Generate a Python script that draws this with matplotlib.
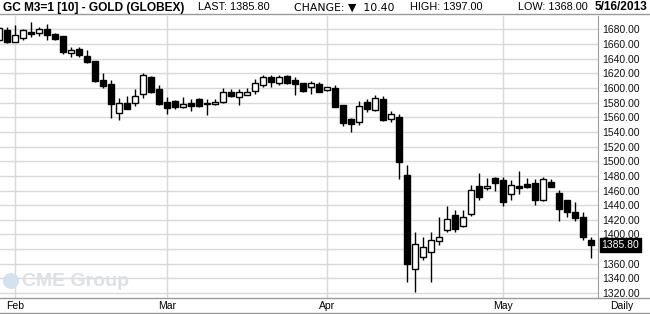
import matplotlib
matplotlib.use('Agg')
import matplotlib.pyplot as plt
from matplotlib.lines import Line2D
from matplotlib.patches import Ellipse

# daily OHLC, GC June 2013 (Globex), Jan 30 .. May 16 2013
opens = [1665.0, 1678.6, 1663.5, 1668.5, 1676.3, 1675.0, 1681.0, 1674.0, 1670.4, 1648.0,
         1653.4, 1644.0, 1637.3, 1611.0, 1605.0, 1565.3, 1579.0, 1579.0, 1591.5, 1615.0,
         1598.3, 1581.5, 1581.8, 1573.6, 1579.1, 1585.0, 1579.5, 1578.2, 1580.5, 1594.1,
         1588.2, 1590.5, 1595.5, 1604.1, 1614.5, 1606.4, 1616.8, 1611.4, 1606.8, 1600.9,
         1605.5, 1597.3, 1600.0, 1577.2, 1557.5, 1553.0, 1580.8, 1570.3, 1584.9, 1557.5,
         1560.7, 1480.6, 1353.3, 1369.0, 1375.5, 1391.4, 1406.4, 1426.0, 1411.0, 1428.2,
         1466.8, 1464.0, 1477.3, 1475.0, 1455.5, 1466.4, 1469.0, 1470.0, 1447.3, 1471.4,
         1456.4, 1447.3, 1430.0, 1424.5, 1392.7]
highs = [1684.0, 1683.2, 1685.5, 1681.0, 1690.0, 1683.0, 1687.0, 1675.4, 1671.0, 1656.6,
         1655.7, 1652.0, 1637.5, 1620.0, 1611.0, 1587.0, 1589.0, 1599.0, 1621.0, 1616.7,
         1604.3, 1587.5, 1583.6, 1587.3, 1585.0, 1586.4, 1585.0, 1585.0, 1600.0, 1598.6,
         1598.6, 1600.0, 1612.3, 1618.2, 1618.2, 1618.2, 1618.2, 1615.5, 1607.2, 1610.0,
         1607.7, 1601.8, 1604.5, 1577.5, 1558.9, 1582.6, 1584.5, 1590.9, 1589.5, 1569.0,
         1564.4, 1494.3, 1404.0, 1396.0, 1403.2, 1424.5, 1439.5, 1433.6, 1433.6, 1467.7,
         1483.6, 1477.7, 1479.0, 1478.0, 1474.0, 1486.8, 1477.7, 1476.0, 1479.0, 1476.0,
         1461.0, 1447.5, 1445.0, 1430.0, 1397.0]
lows = [1664.0, 1661.2, 1662.5, 1666.0, 1669.4, 1671.0, 1666.0, 1666.0, 1646.5, 1642.0,
        1642.0, 1634.0, 1608.4, 1600.6, 1559.4, 1556.0, 1571.0, 1575.0, 1586.0, 1593.0,
        1576.3, 1565.0, 1571.4, 1572.3, 1568.2, 1574.0, 1563.2, 1577.5, 1580.0, 1587.3,
        1576.8, 1590.0, 1591.8, 1601.8, 1600.9, 1604.5, 1605.5, 1590.5, 1595.2, 1591.8,
        1594.1, 1595.5, 1573.5, 1548.4, 1539.3, 1549.3, 1566.7, 1569.0, 1555.3, 1553.0,
        1476.3, 1335.1, 1321.5, 1364.5, 1335.0, 1386.0, 1403.2, 1402.7, 1410.0, 1425.5,
        1447.3, 1461.0, 1459.0, 1438.5, 1447.3, 1455.0, 1463.0, 1440.5, 1446.0, 1465.0,
        1418.6, 1423.2, 1419.0, 1393.0, 1368.0]
closes = [1682.0, 1662.6, 1672.7, 1678.6, 1674.0, 1681.0, 1672.7, 1667.0, 1648.8, 1652.0,
          1645.0, 1635.0, 1609.4, 1603.0, 1577.7, 1580.0, 1572.0, 1589.0, 1617.6, 1594.7,
          1577.7, 1572.2, 1573.6, 1577.7, 1575.0, 1575.0, 1578.6, 1581.4, 1595.0, 1588.6,
          1594.1, 1595.0, 1606.8, 1615.5, 1607.7, 1615.5, 1606.4, 1605.5, 1595.5, 1606.8,
          1594.6, 1601.0, 1573.6, 1551.6, 1550.2, 1575.8, 1570.8, 1586.3, 1556.6, 1564.4,
          1499.0, 1359.7, 1387.2, 1382.7, 1392.7, 1396.0, 1421.4, 1407.7, 1424.5, 1461.0,
          1451.0, 1466.8, 1470.0, 1444.0, 1467.7, 1463.2, 1465.5, 1447.3, 1476.0, 1465.5,
          1434.5, 1430.5, 1422.3, 1396.2, 1385.8]

month_labels = ['Feb', 'Mar', 'Apr', 'May']
month_starts = [2, 21, 41, 63]   # bar index of first trading day of each month
price_ticks = list(range(1320, 1700, 20))

title = 'GC M3=1 [10] - GOLD (GLOBEX)'
last_price = 1385.80
change = 10.40
day_high = 1397.00
day_low = 1368.00
as_of = '5/16/2013'

W, H = 650, 314
FONT = ['Liberation Sans', 'DejaVu Sans']
GRID = '#d9d9d9'
FRAME = '#9a9a9a'


def px(x, y):
    # pixel position (from top-left) -> figure fraction
    return x / W, 1 - y / H


fig = plt.figure(figsize=(W / 100, H / 100), dpi=100)
ax = fig.add_axes([0, 16 / H, 598 / W, 282 / H])

n = len(opens)
idx = list(range(n))
ax.set_xlim(0.125, n - 0.125)
ax.set_ylim(1313.2, 1698.4)

# grid
for p in price_ticks:
    ax.axhline(p, color=GRID, lw=1.0, zorder=0)
for m in month_starts:
    ax.axvline(m, color=GRID, lw=1.0, zorder=0)

# candles
body_w = 0.66
ax.vlines(idx, lows, highs, color='black', lw=1.0, zorder=2)
bottoms = [min(o, c) for o, c in zip(opens, closes)]
heights = [max(abs(c - o), 0.8) for o, c in zip(opens, closes)]
faces = ['white' if c >= o else 'black' for o, c in zip(opens, closes)]
ax.bar(idx, heights, bottom=bottoms, width=body_w, color=faces,
       edgecolor='black', linewidth=1.0, zorder=3)

# axes styling
for s in ['left', 'top', 'bottom']:
    ax.spines[s].set_visible(False)
ax.spines['right'].set_color(FRAME)
ax.yaxis.tick_right()
ax.set_yticks(price_ticks)
# the 1380 label sits under the last-price tag
ax.set_yticklabels(['' if p == 1380 else '%.2f' % p for p in price_ticks],
                   fontsize=7.5, family=FONT, color='#111111')
ax.tick_params(axis='y', length=0, pad=3)
ax.set_xticks([])

# current price tag
ax.text(1.006, last_price, '%.2f' % last_price, transform=ax.get_yaxis_transform(),
        ha='left', va='center', fontsize=7.5, family=FONT, color='white',
        bbox=dict(boxstyle='square,pad=0.18', fc='black', ec='black'),
        clip_on=False, zorder=10)

# frame lines
fig.add_artist(Line2D([0, 1], [1 - 14 / H] * 2, color=FRAME, lw=1.0))
fig.add_artist(Line2D([0, 1], [16 / H] * 2, color=FRAME, lw=1.0))
fig.add_artist(Line2D([0, 1], [1 / H] * 2, color=FRAME, lw=1.0))

# month labels
for lab, m in zip(month_labels, month_starts):
    xp = 8 * m - 1
    fig.text(*px(xp, 306), lab, ha='center', va='center', fontsize=7.5, family=FONT)
fig.text(*px(622, 306), 'Daily', ha='center', va='center', fontsize=7.5, family=FONT)

# header
fig.text(*px(3, 7.5), title, ha='left', va='center', fontsize=8.6, weight='bold', family=FONT)
fig.text(*px(198, 7.5), 'LAST: %.2f' % last_price, ha='left', va='center', fontsize=7.8, family=FONT)
fig.text(*px(294, 7.5), 'CHANGE: \u25bc  %.2f' % change, ha='left', va='center', fontsize=7.8,
         family=['DejaVu Sans'])
fig.text(*px(410, 7.5), 'HIGH: %.2f' % day_high, ha='left', va='center', fontsize=7.8, family=FONT)
fig.text(*px(518, 7.5), 'LOW: %.2f' % day_low, ha='left', va='center', fontsize=7.8, family=FONT)
fig.text(*px(647, 7.5), as_of, ha='right', va='center', fontsize=8.6, weight='bold', family=FONT)

# watermark
fig.add_artist(Ellipse(px(11, 281), 16 / W, 16 / H, transform=fig.transFigure,
                       fc='#d4e2ef', ec='none', zorder=5))
fig.text(*px(22, 282), 'CME Group', ha='left', va='center', fontsize=14, weight='bold',
         family=FONT, color='#dde1e6')

fig.savefig('out.png', dpi=100)
